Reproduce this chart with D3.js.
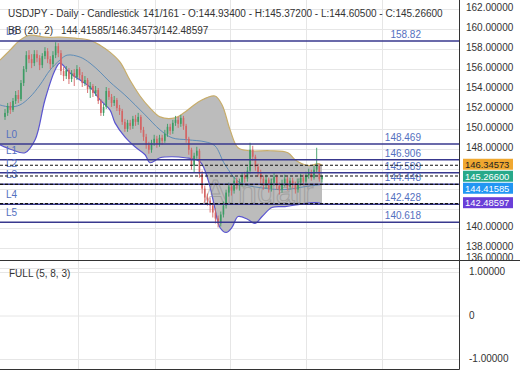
<!DOCTYPE html>
<html>
<head>
<meta charset="utf-8">
<script src="https://cdn.jsdelivr.net/npm/d3@7"></script>
<style>
  body { margin: 0; background: #fff; }
  svg { display: block; font-family: "Liberation Sans", Arial, sans-serif; }
</style>
</head>
<body>
<div id="chart"></div>
<script>
// daily candles, oldest first
const opens = [
  151.2, 151.6, 152.3, 151.9, 152.8, 153.4, 153.0, 154.6, 156.0, 157.4,
  157.0, 156.6, 157.5, 157.1, 156.4, 157.3, 157.8, 157.0, 156.5, 157.4,
  158.3, 157.6, 155.8, 155.3, 155.9, 155.0, 155.6, 155.2, 156.0, 155.4,
  154.6, 154.9, 154.0, 154.3, 153.6, 153.9, 152.8, 151.6, 152.2, 153.8,
  153.2, 152.6, 152.9, 152.1, 151.8, 150.7, 150.0, 150.6, 150.3, 151.0,
  150.7, 151.2, 149.9, 149.2, 148.4, 147.9, 148.6, 149.0, 148.5, 149.1,
  148.8, 149.5, 150.2, 149.8, 150.6, 150.9, 150.5, 151.1, 150.3, 149.0,
  147.9, 146.3, 147.3, 147.8, 145.5, 144.0, 143.1, 142.8, 142.3, 141.6,
  141.0, 140.5, 141.4, 142.3, 143.6, 144.2, 143.8, 144.8, 144.3, 144.6,
  145.3, 145.0, 145.8, 147.9, 147.2, 146.2, 145.6, 145.0, 144.4, 144.9,
  144.0, 144.6, 145.2, 144.3, 143.9, 144.5, 145.0, 144.2, 144.8, 144.4,
  143.9, 144.6, 145.1, 144.7, 145.3, 145.6, 145.1, 145.9, 146.3, 144.934
];
const highs = [
  152.0, 152.6, 152.7, 153.1, 153.8, 153.9, 154.9, 156.3, 157.8, 157.9,
  157.5, 157.9, 157.9, 157.4, 157.6, 158.2, 158.1, 157.3, 157.8, 158.7,
  158.6, 157.9, 156.2, 156.3, 156.1, 155.9, 156.0, 156.4, 156.2, 155.7,
  155.3, 155.1, 154.7, 154.5, 154.3, 154.1, 153.0, 152.5, 154.2, 154.1,
  153.5, 153.3, 153.1, 152.4, 152.0, 151.0, 150.9, 150.9, 151.3, 151.4,
  151.6, 151.4, 150.2, 149.5, 148.7, 148.9, 149.4, 149.3, 149.4, 149.4,
  149.9, 150.5, 150.5, 150.9, 151.3, 151.2, 151.4, 151.3, 150.5, 149.2,
  148.1, 147.6, 148.2, 148.0, 145.8, 144.3, 143.5, 143.1, 142.6, 142.0,
  141.3, 141.7, 142.7, 143.9, 144.6, 144.5, 145.2, 145.1, 145.0, 145.6,
  145.7, 146.2, 148.6, 148.3, 147.4, 146.5, 145.9, 145.3, 145.4, 145.1,
  145.0, 145.6, 145.4, 144.6, 144.9, 145.4, 145.2, 145.1, 145.1, 144.7,
  145.0, 145.5, 145.4, 145.7, 146.0, 145.9, 146.3, 148.1, 146.5, 145.372
];
const lows = [
  150.9, 151.3, 151.5, 151.7, 152.5, 152.6, 152.8, 154.3, 155.7, 156.6,
  156.1, 156.3, 156.7, 155.9, 156.1, 157.0, 156.6, 156.0, 156.2, 157.1,
  157.2, 155.4, 154.8, 155.0, 154.5, 154.7, 154.3, 154.9, 155.0, 154.2,
  154.3, 153.6, 153.1, 153.2, 153.3, 152.5, 151.3, 151.3, 152.0, 152.9,
  152.2, 152.3, 151.8, 151.4, 150.4, 149.7, 149.7, 149.9, 150.0, 150.3,
  150.4, 149.6, 148.8, 148.0, 147.5, 147.6, 148.3, 148.1, 148.2, 148.4,
  148.6, 149.2, 149.4, 149.5, 150.3, 150.1, 150.2, 149.9, 148.6, 147.4,
  145.9, 145.6, 147.0, 145.1, 143.5, 142.6, 142.3, 141.6, 141.1, 140.5,
  140.1, 140.2, 141.1, 142.0, 143.2, 143.3, 143.5, 143.9, 143.8, 144.2,
  144.6, 144.7, 145.5, 146.8, 145.8, 145.2, 144.5, 143.9, 144.0, 143.6,
  143.7, 144.3, 143.9, 143.4, 143.6, 144.2, 143.8, 143.9, 144.0, 143.5,
  143.6, 144.3, 144.3, 144.5, 145.0, 144.8, 144.9, 145.6, 144.7, 144.605
];
const closes = [
  151.6, 152.3, 151.9, 152.8, 153.4, 153.0, 154.6, 156.0, 157.4, 157.0,
  156.6, 157.5, 157.1, 156.4, 157.3, 157.8, 157.0, 156.5, 157.4, 158.3,
  157.6, 155.8, 155.3, 155.9, 155.0, 155.6, 155.2, 156.0, 155.4, 154.6,
  154.9, 154.0, 154.3, 153.6, 153.9, 152.8, 151.6, 152.2, 153.8, 153.2,
  152.6, 152.9, 152.1, 151.8, 150.7, 150.0, 150.6, 150.3, 151.0, 150.7,
  151.2, 149.9, 149.2, 148.4, 147.9, 148.6, 149.0, 148.5, 149.1, 148.8,
  149.5, 150.2, 149.8, 150.6, 150.9, 150.5, 151.1, 150.3, 149.0, 147.9,
  146.3, 147.3, 147.8, 145.5, 144.0, 143.1, 142.8, 142.3, 141.6, 141.0,
  140.5, 141.4, 142.3, 143.6, 144.2, 143.8, 144.8, 144.3, 144.6, 145.3,
  145.0, 145.8, 147.9, 147.2, 146.2, 145.6, 145.0, 144.4, 144.9, 144.0,
  144.6, 145.2, 144.3, 143.9, 144.5, 145.0, 144.2, 144.8, 144.4, 143.9,
  144.6, 145.1, 144.7, 145.3, 145.6, 145.1, 145.9, 146.3, 144.934, 145.266
];

// Bollinger (20, 2), at bar positions
const upperIdx = [-1.9, 1.9, 5.6, 9.4, 15, 20.6, 26.3, 31.9, 35.7, 39.4, 43.2, 46.9, 50.7, 54.4, 58.2,
  63.8, 67.6, 73.2, 78.8, 81.5, 84.5, 87.5, 92, 99.5, 106.2, 108.9, 111.5, 114.5, 117.5, 119];
const upperVal = [156.9, 157.9, 158.9, 159.4, 159.2, 159.2, 159.1, 158.9, 158.4, 157.7, 156.7, 154.9, 153.3, 152.1, 151.2,
  151.1, 151.7, 152.8, 153.3, 152.4, 149.9, 148.1, 147.8, 147.8, 147.6, 146.9, 146.5, 146.3, 146.5, 146.34573];
const middleIdx = [-1.9, 1.9, 5.6, 9.4, 13.1, 16.9, 20.6, 23.3, 28.2, 31.9, 35.7, 39.4, 45, 52.6, 58.2,
  62.7, 68.7, 75.1, 78.8, 82.6, 88.2, 95.7, 105.1, 112.6, 119];
const middleVal = [152.4, 152.2, 152.4, 153.2, 154.4, 155.9, 156.9, 157.4, 157.2, 156.6, 155.7, 154.7, 153.4, 151.4, 149.9,
  149.1, 148.9, 148.7, 148.3, 146.4, 144.6, 144.1, 143.9, 144.2, 144.41585];
const lowerIdx = [-1.9, 2.6, 7.5, 11.3, 15, 18.8, 20.6, 24.4, 28.2, 31.9, 35.7, 39.4, 41.3, 45, 48.8, 52.6, 54.4,
  58.2, 62.7, 67.6, 73.2, 76.2, 78.5, 80.7, 83, 85.2, 87.5, 91.2, 93.8, 96.5, 100.2, 105.1, 110, 116.4, 119];
const lowerVal = [148.4, 147.9, 147.6, 148.9, 152.9, 155.9, 156.6, 155.6, 154.9, 154.2, 152.9, 151.9, 150.6, 149.2, 148.2, 147.4, 146.6,
  147.1, 147.2, 147.1, 146.7, 144.9, 142.4, 140.1, 139.6, 140.1, 141.2, 140.9, 140.5, 141.2, 142.1, 142.2, 142.4, 142.6, 142.48597];

// horizontal levels
const levelNames = ['L6', 'L0', 'L1', 'L2', 'L3', 'L4', 'L5'];
const levelValues = [158.82, 148.469, 146.906, 145.589, 144.448, 142.428, 140.618];
const levelLabels = ['158.82', '148.469', '146.906', '145.589', '144.448', '142.428', '140.618'];

// last values (dashed lines + axis tags): BB upper, close, BB middle, BB lower
const lastValues = [146.34573, 145.266, 144.41585, 142.48597];
const lastColors = ['#f0a830', '#27a98a', '#2196f3', '#6a3fd8'];
const lastText = ['#222', '#fff', '#fff', '#fff'];

const priceTicks = d3.range(136, 163, 2);
const oscTicks = [1, 0, -1];
const oscTickLabels = ['1.00000', '0', '-1.00000'];

const W = 520, H = 390;
const axisX = 459.5, mainBottom = 260.5, lowBottom = 369.5;
const vGrid = [78, 155, 230, 306, 382];

const svg = d3.select('#chart').append('svg').attr('width', W).attr('height', H);

const x = d3.scaleLinear().domain([0, closes.length - 1]).range([5, 322]);
const y = d3.scaleLinear().domain([140.618, 158.82]).range([222.3, 41]);
const yl = d3.scaleLinear().domain([-1, 1]).range([359.5, 272.5]);

// grid
const grid = svg.append('g').attr('stroke', '#e6e6e6').attr('stroke-width', 1);
grid.selectAll('line.v').data(vGrid).enter().append('line')
  .attr('x1', d => d + 0.5).attr('x2', d => d + 0.5).attr('y1', 0).attr('y2', lowBottom);
grid.selectAll('line.h').data(priceTicks).enter().append('line')
  .attr('x1', 0).attr('x2', axisX).attr('y1', d => Math.round(y(d)) + 0.5).attr('y2', d => Math.round(y(d)) + 0.5);
grid.selectAll('line.o').data(oscTicks).enter().append('line')
  .attr('x1', 0).attr('x2', axisX).attr('y1', d => yl(d)).attr('y2', d => yl(d));

// bollinger band
const curve = d3.curveCatmullRom.alpha(0.5);
const upperPts = upperIdx.map((d, i) => [x(d), y(upperVal[i])]);
const lowerPts = lowerIdx.map((d, i) => [x(d), y(lowerVal[i])]);
const middlePts = middleIdx.map((d, i) => [x(d), y(middleVal[i])]);
const line = d3.line().curve(curve);
const fillPath = line(upperPts) + 'L' + line(lowerPts.slice().reverse()).slice(1) + 'Z';

svg.append('path').attr('d', fillPath).attr('fill', '#bcbcbc');
svg.append('path').attr('d', line(upperPts)).attr('fill', 'none').attr('stroke', '#c8ad6a').attr('stroke-width', 1.2);
svg.append('path').attr('d', line(lowerPts)).attr('fill', 'none').attr('stroke', '#5a55d0').attr('stroke-width', 1.2);
svg.append('path').attr('d', line(middlePts)).attr('fill', 'none').attr('stroke', '#5f8db8').attr('stroke-width', 1);

// watermark
svg.append('text').attr('x', 204).attr('y', 203).attr('font-size', 34)
  .attr('fill', 'none').attr('stroke', '#8a8a8a').attr('stroke-width', 1).attr('opacity', 0.55)
  .text('Arndair');

// candles
const up = '#3c9c64', down = '#d46464';
const candles = svg.append('g');
closes.forEach((c, i) => {
  const o = opens[i];
  const col = c >= o ? up : down;
  const cx = x(i);
  candles.append('line')
    .attr('x1', cx).attr('x2', cx)
    .attr('y1', y(highs[i])).attr('y2', y(lows[i]))
    .attr('stroke', col).attr('stroke-width', 0.9);
  const top = y(Math.max(o, c)), bot = y(Math.min(o, c));
  candles.append('rect')
    .attr('x', cx - 0.8).attr('width', 1.6)
    .attr('y', top).attr('height', Math.max(1, bot - top))
    .attr('fill', col);
});

// levels
const lv = svg.append('g');
lv.selectAll('line').data(levelValues).enter().append('line')
  .attr('x1', 0).attr('x2', axisX).attr('y1', d => y(d)).attr('y2', d => y(d))
  .attr('stroke', '#38388e').attr('stroke-width', 1.5);
lv.selectAll('text.name').data(levelNames).enter().append('text')
  .attr('x', 6).attr('y', (d, i) => y(levelValues[i]) - 6)
  .attr('font-size', 10).attr('fill', '#5470c0').text(d => d);
lv.selectAll('text.val').data(levelLabels).enter().append('text')
  .attr('x', 421).attr('y', (d, i) => y(levelValues[i]) - 3)
  .attr('text-anchor', 'end').attr('font-size', 10).attr('fill', '#5470c0').text(d => d);

// dashed last-value lines
svg.append('g').selectAll('line').data(lastValues).enter().append('line')
  .attr('x1', 0).attr('x2', axisX).attr('y1', d => y(d)).attr('y2', d => y(d))
  .attr('stroke', '#111').attr('stroke-width', 1.2).attr('stroke-dasharray', '3,2');

// panel borders
const border = svg.append('g').attr('stroke', '#333').attr('stroke-width', 1);
border.append('line').attr('x1', axisX).attr('x2', axisX).attr('y1', 0).attr('y2', lowBottom);
border.append('line').attr('x1', 0).attr('x2', W).attr('y1', mainBottom).attr('y2', mainBottom);
border.append('line').attr('x1', 0).attr('x2', axisX).attr('y1', lowBottom).attr('y2', lowBottom);

// tag positions (stacked so they don't overlap)
const tagY = [];
lastValues.forEach((v, i) => {
  let c = y(v) - 1;
  if (i > 0 && c < tagY[i - 1] + 12) c = tagY[i - 1] + 12;
  tagY.push(c);
});

// price axis labels
const axisG = svg.append('g').attr('font-size', 10).attr('fill', '#333');
priceTicks.forEach(t => {
  const ty = Math.min(y(t) - 1.5, 257);
  if (tagY.some(c => Math.abs(c - ty) < 9)) return;
  axisG.append('text').attr('x', 466).attr('y', ty).attr('dy', '0.35em').text(d3.format('.5f')(t));
});

// tags
const tags = svg.append('g');
lastValues.forEach((v, i) => {
  tags.append('rect').attr('x', 463).attr('y', tagY[i] - 5.5).attr('width', 50).attr('height', 11)
    .attr('fill', lastColors[i]);
  tags.append('text').attr('x', 465).attr('y', tagY[i]).attr('dy', '0.35em')
    .attr('font-size', 9.4).attr('fill', lastText[i]).text(d3.format('.5f')(v));
});

// oscillator panel labels
svg.append('g').attr('font-size', 10).attr('fill', '#333')
  .selectAll('text').data(oscTicks).enter().append('text')
  .attr('x', 469).attr('y', d => yl(d) - 1).attr('dy', '0.35em')
  .text((d, i) => oscTickLabels[i]);

// header texts
const hdr = svg.append('g').attr('font-size', 10).attr('fill', '#333');
hdr.append('text').attr('x', 8).attr('y', 17).text('USDJPY - Daily - Candlestick');
hdr.append('text').attr('x', 143).attr('y', 17)
  .text('141/161 - O:144.93400 - H:145.37200 - L:144.60500 - C:145.26600');
hdr.append('text').attr('x', 8).attr('y', 34).text('BB (20, 2)');
hdr.append('text').attr('x', 61).attr('y', 34).text('144.41585/146.34573/142.48597');
hdr.append('text').attr('x', 9).attr('y', 277).text('FULL (5, 8, 3)');
</script>
</body>
</html>
